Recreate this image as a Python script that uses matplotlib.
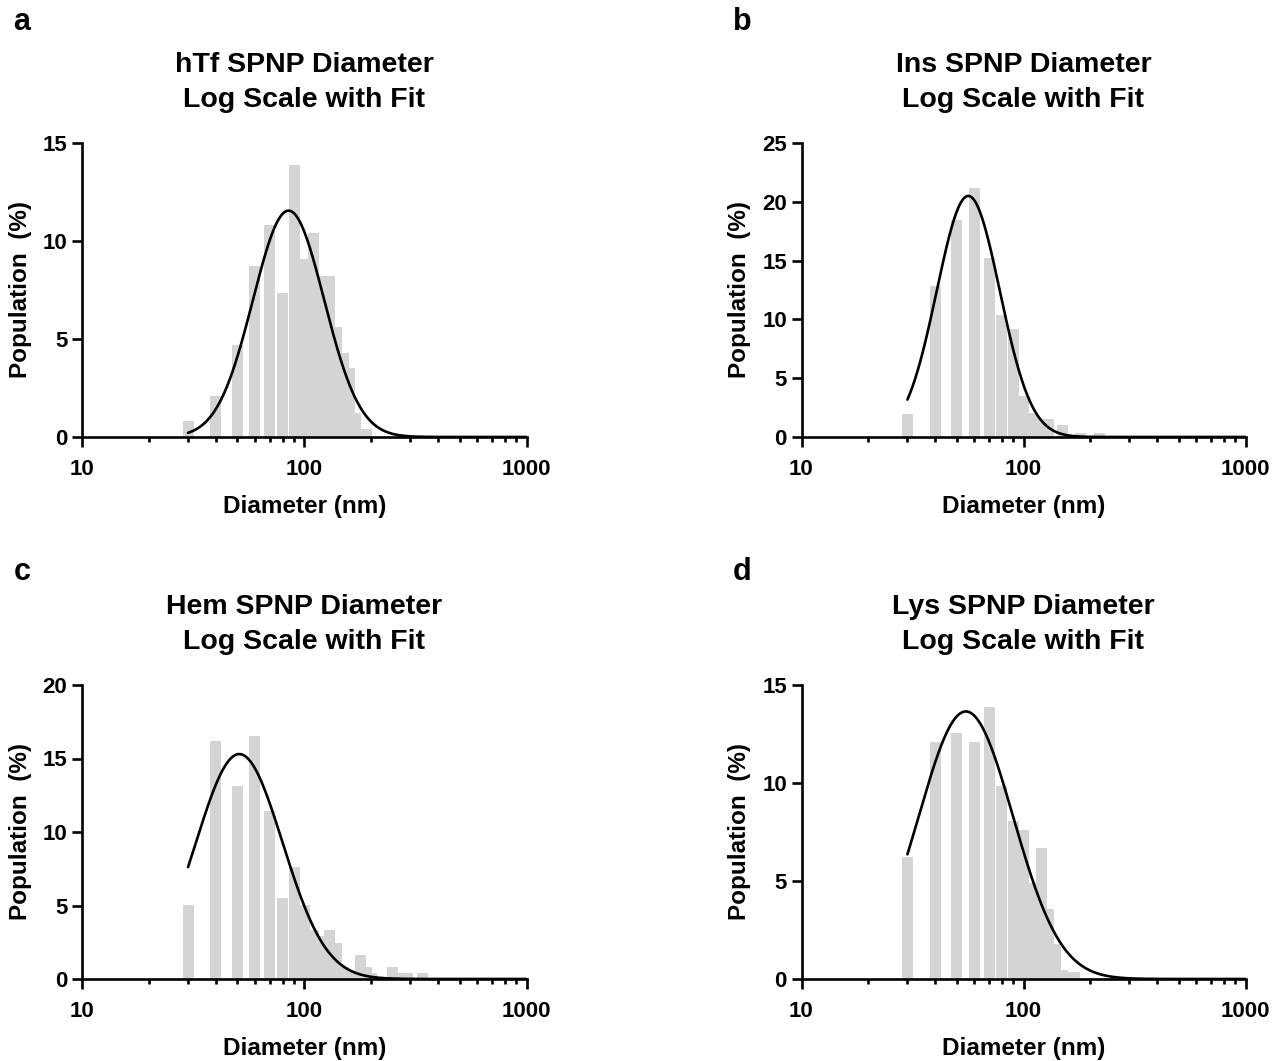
import numpy as np
import matplotlib
matplotlib.use('Agg')
import matplotlib.pyplot as plt
from matplotlib.ticker import LogLocator, FixedLocator, NullFormatter

plt.rcParams['font.family'] = ['Liberation Sans', 'DejaVu Sans']
plt.rcParams['font.weight'] = 'bold'

# bin centres (nm) and population (%)
bins_a = [30, 40, 50, 60, 70, 80, 90, 100, 110, 120, 130, 140, 150, 160, 170, 180, 190]
pop_a = [0.83, 2.1, 4.7, 8.7, 10.8, 7.35, 13.9, 9.1, 10.4, 8.2, 8.2, 5.6, 4.3, 3.5, 1.25, 0.4, 0.4]

bins_b = [30, 40, 50, 60, 70, 80, 90, 100, 110, 120, 130, 150, 180, 220,
          260, 300, 340, 380, 420, 470, 520, 580]
pop_b = [1.95, 12.8, 18.45, 21.2, 15.2, 10.35, 9.15, 3.5, 2.0, 1.5, 1.5, 1.05, 0.35, 0.35,
         0.08, 0.08, 0.08, 0.08, 0.08, 0.08, 0.08, 0.08]

bins_c = [30, 40, 50, 60, 70, 80, 90, 100, 110, 120, 130, 140, 150, 160, 170, 180, 190, 200,
          250, 270, 290, 340, 380, 420, 460, 500, 550, 600]
pop_c = [5.03, 16.2, 13.15, 16.55, 11.45, 5.5, 7.6, 5.03, 3.33, 2.9, 3.33, 2.47, 0.8, 0.55, 0.4,
         1.63, 0.84, 0.4, 0.84, 0.4, 0.4, 0.4, 0.08, 0.08, 0.08, 0.08, 0.08, 0.08]

bins_d = [30, 40, 50, 60, 70, 80, 90, 100, 110, 120, 130, 140, 150, 160, 170,
          200, 240, 280, 330, 380, 440, 510, 590]
pop_d = [6.24, 12.1, 12.55, 12.1, 13.9, 9.85, 8.06, 7.59, 4.9, 6.7, 3.55, 1.77, 0.45, 0.37, 0.37,
         0.06, 0.06, 0.06, 0.06, 0.06, 0.06, 0.06, 0.06]

# log-normal fit: amplitude, centre (nm), sigma (decades)
fit_a = (11.55, 85, 0.16)
fit_b = (20.5, 56.4, 0.142)
fit_c = (15.3, 51, 0.195)
fit_d = (13.65, 55, 0.213)

titles = ['hTf SPNP Diameter\nLog Scale with Fit',
          'Ins SPNP Diameter\nLog Scale with Fit',
          'Hem SPNP Diameter\nLog Scale with Fit',
          'Lys SPNP Diameter\nLog Scale with Fit']
letters = ['a', 'b', 'c', 'd']
ymax = [15, 25, 20, 15]
yticks = [[0, 5, 10, 15], [0, 5, 10, 15, 20, 25], [0, 5, 10, 15, 20], [0, 5, 10, 15]]

W, H = 1274, 1061
fig = plt.figure(figsize=(W / 100, H / 100), dpi=100)

# axes boxes in pixels: left, right, top, bottom
boxes = [(82, 526.5, 143, 437), (801.5, 1245.5, 143, 437),
         (82, 526.5, 685, 979), (801.5, 1245.5, 685, 979)]
letter_pos = [(22, 22), (742, 22), (22, 572), (742, 572)]

bar_w = 0.0495  # bar width in decades
bar_col = '#d3d5d4'

data = [(bins_a, pop_a, fit_a), (bins_b, pop_b, fit_b),
        (bins_c, pop_c, fit_c), (bins_d, pop_d, fit_d)]

for i, (bins, pop, fit) in enumerate(data):
    l, r, t, b = boxes[i]
    ax = fig.add_axes([l / W, 1 - b / H, (r - l) / W, (b - t) / H])
    c = np.array(bins, dtype=float)
    left = c * 10 ** (-bar_w / 2)
    width = c * 10 ** (bar_w / 2) - left
    ax.bar(left, pop, width=width, align='edge', color=bar_col, linewidth=0, zorder=1)

    amp, mu, sig = fit
    xs = np.geomspace(30, 1000, 500)
    ys = amp * np.exp(-0.5 * ((np.log10(xs) - np.log10(mu)) / sig) ** 2)
    ax.plot(xs, ys, color='black', lw=1.9, zorder=3, solid_capstyle='round')

    ax.set_xscale('log')
    ax.set_xlim(10, 1000)
    ax.set_ylim(0, ymax[i])
    ax.set_yticks(yticks[i])
    ax.xaxis.set_major_locator(FixedLocator([10, 100, 1000]))
    ax.xaxis.set_minor_locator(LogLocator(base=10, subs=np.arange(2, 10)))
    ax.xaxis.set_minor_formatter(NullFormatter())
    ax.set_xticklabels(['10', '100', '1000'])

    for s in ['top', 'right']:
        ax.spines[s].set_visible(False)
    for s in ['left', 'bottom']:
        ax.spines[s].set_linewidth(1.9)
    ax.spines['bottom'].set_zorder(4)
    ax.tick_params(which='major', length=7, width=1.9, labelsize=16)
    ax.tick_params(axis='x', which='major', pad=8.5)
    ax.tick_params(axis='y', which='major', pad=3.5)
    ax.tick_params(which='minor', length=3.8, width=1.9)
    for lab in ax.get_xticklabels() + ax.get_yticklabels():
        lab.set_fontweight('bold')

    ax.set_xlabel('Diameter (nm)', fontsize=17.5, fontweight='bold', labelpad=11)
    ax.set_ylabel('Population  (%)', fontsize=17.5, fontweight='bold', labelpad=8)
    ax.set_title(titles[i], fontsize=20.5, fontweight='bold', pad=26, linespacing=1.42)

    lx, ly = letter_pos[i]
    fig.text(lx / W, 1 - ly / H, letters[i], fontsize=22, fontweight='bold',
             ha='center', va='center')

fig.savefig('out.png', dpi=100)
